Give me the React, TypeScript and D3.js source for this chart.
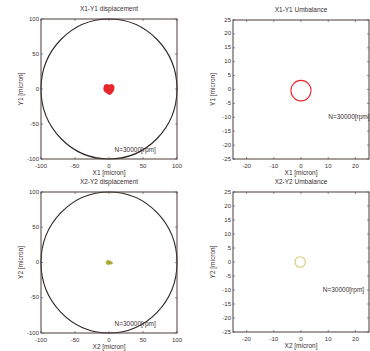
import React from 'react';
import * as d3 from 'd3';

const dispTicks = [-100, -50, 0, 50, 100];
const umbXTicks = [-20, -10, 0, 10, 20];
const umbYTicks = [25, 20, 15, 10, 5, 0, -5, -10, -15, -20, -25];
const boundaryRadius = 100;

// X1-Y1 displacement orbit (micron)
const orbit1X = [-6, -3, 0, 3, 6, 7, 6, 4, 2, 0, -2, -5, -7, -7];
const orbit1Y = [5, 6, 5, 6, 5, 2, -2, -5, -7, -7, -6, -4, -1, 2];
// X2-Y2 displacement orbit (micron)
const orbit3X = [-3, -1, 1, 3, 5, 4, 1, -1, -3, -4];
const orbit3Y = [2, 3, 2, 1, 0, -2, -2, -3, -2, 0];

// Umbalance circles: [cx, cy, r] in micron
const umb1 = [0.0, -0.4, 3.7];
const umb2 = [-0.3, 0.0, 1.9];

const rpmLabel = 'N=30000[rpm]';

const FONT = 'Liberation Sans, Arial, Helvetica, sans-serif';
const FRAME = '#4a3c38';
const TXT = '#3a3030';

type PanelProps = {
  x0: number; x1: number; y0: number; y1: number;
  dom: number; xt: number[]; yt: number[];
  title: string; xl: string; yl: string;
  children: (x: d3.ScaleLinear<number, number>, y: d3.ScaleLinear<number, number>) => React.ReactNode;
};

function Panel({ x0, x1, y0, y1, dom, xt, yt, title, xl, yl, children }: PanelProps) {
  const x = d3.scaleLinear().domain([-dom, dom]).range([x0, x1]);
  const y = d3.scaleLinear().domain([-dom, dom]).range([y1, y0]);
  const cx = (x0 + x1) / 2;
  const cy = (y0 + y1) / 2;
  return (
    <g>
      <text x={cx} y={y0 - 8} fontSize={6.5} textAnchor="middle" fill={TXT} fontFamily={FONT}>{title}</text>
      <text x={cx} y={y1 + 16} fontSize={6.5} textAnchor="middle" fill={TXT} fontFamily={FONT}>{xl}</text>
      <text transform={`translate(${x0 - 18},${cy}) rotate(-90)`} fontSize={6.5} textAnchor="middle" fill={TXT} fontFamily={FONT}>{yl}</text>
      {xt.map(t => (
        <g key={'x' + t}>
          <line x1={x(t)} x2={x(t)} y1={y1} y2={y1 - 2} stroke={FRAME} strokeWidth={0.6} />
          <line x1={x(t)} x2={x(t)} y1={y0} y2={y0 + 2} stroke={FRAME} strokeWidth={0.6} />
          <text x={x(t)} y={y1 + 8.5} fontSize={6} textAnchor="middle" fill={TXT} fontFamily={FONT}>{t}</text>
        </g>
      ))}
      {yt.map(t => (
        <g key={'y' + t}>
          <line x1={x0} x2={x0 + 2} y1={y(t)} y2={y(t)} stroke={FRAME} strokeWidth={0.6} />
          <line x1={x1} x2={x1 - 2} y1={y(t)} y2={y(t)} stroke={FRAME} strokeWidth={0.6} />
          <text x={x0 - 2} y={y(t) + 1.5} fontSize={6} textAnchor="end" fill={TXT} fontFamily={FONT}>{t}</text>
        </g>
      ))}
      {children(x, y)}
      <rect x={x0} y={y0} width={x1 - x0} height={y1 - y0} fill="none" stroke={FRAME} strokeWidth={1} />
    </g>
  );
}

function orbitPath(xs: number[], ys: number[], x: any, y: any) {
  const line = d3.line<number>().x(i => x(xs[i])).y(i => y(ys[i])).curve(d3.curveCardinalClosed);
  return line(xs.map((_, i) => i)) || '';
}

export default function App() {
  return (
    <svg width={370} height={351} style={{ position: 'absolute', left: 0, top: 0, background: '#fff' }}>
      <Panel x0={41} x1={177} y0={19} y1={159} dom={100} xt={dispTicks} yt={dispTicks}
        title="X1-Y1 displacement" xl="X1 [micron]" yl="Y1 [micron]">
        {(x, y) => (
          <g>
            <ellipse cx={x(0)} cy={y(0)} rx={x(boundaryRadius) - x(0)} ry={y(0) - y(boundaryRadius)} fill="none" stroke="#2e2624" strokeWidth={1.1} />
            <path d={orbitPath(orbit1X, orbit1Y, x, y)} fill="#e8262e" stroke="#e8262e" strokeWidth={1.5} />
            <text x={x(8)} y={y(-90)} fontSize={6.5} fill={TXT} fontFamily={FONT}>{rpmLabel}</text>
          </g>
        )}
      </Panel>
      <Panel x0={233} x1={369} y0={20} y1={159} dom={25} xt={umbXTicks} yt={umbYTicks}
        title="X1-Y1 Umbalance" xl="X1 [micron]" yl="Y1 [micron]">
        {(x, y) => (
          <g>
            <ellipse cx={x(umb1[0])} cy={y(umb1[1])} rx={x(umb1[2]) - x(0)} ry={y(0) - y(umb1[2])} fill="none" stroke="#e8262e" strokeWidth={1.1} />
            <text x={x(10)} y={y(-10) + 2} fontSize={6.5} fill={TXT} fontFamily={FONT}>{rpmLabel}</text>
          </g>
        )}
      </Panel>
      <Panel x0={41} x1={177} y0={192} y1={333} dom={100} xt={dispTicks} yt={dispTicks}
        title="X2-Y2 displacement" xl="X2 [micron]" yl="Y2 [micron]">
        {(x, y) => (
          <g>
            <ellipse cx={x(0)} cy={y(0)} rx={x(boundaryRadius) - x(0)} ry={y(0) - y(boundaryRadius)} fill="none" stroke="#2e2624" strokeWidth={1.1} />
            <path d={orbitPath(orbit3X, orbit3Y, x, y)} fill="#a8a830" stroke="#a8a830" strokeWidth={1} />
            <text x={x(8)} y={y(-90)} fontSize={6.5} fill={TXT} fontFamily={FONT}>{rpmLabel}</text>
          </g>
        )}
      </Panel>
      <Panel x0={233} x1={369} y0={192} y1={332} dom={25} xt={umbXTicks} yt={umbYTicks}
        title="X2-Y2 Umbalance" xl="X2 [micron]" yl="Y2 [micron]">
        {(x, y) => (
          <g>
            <ellipse cx={x(umb2[0])} cy={y(umb2[1])} rx={x(umb2[2]) - x(0)} ry={y(0) - y(umb2[2])} fill="none" stroke="#d2cc70" strokeWidth={1.1} />
            <text x={x(8)} y={y(-10) + 2} fontSize={6.5} fill={TXT} fontFamily={FONT}>{rpmLabel}</text>
          </g>
        )}
      </Panel>
    </svg>
  );
}
